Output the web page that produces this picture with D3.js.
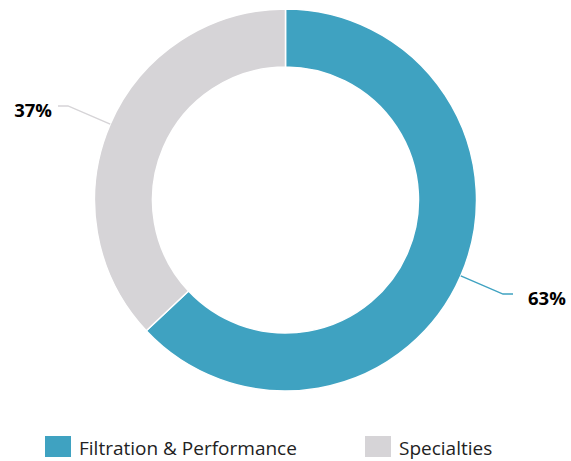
<!DOCTYPE html>
<html>
<head>
<meta charset="utf-8">
<script src="https://cdn.jsdelivr.net/npm/d3@7"></script>
<style>
  body { margin: 0; background: #fff; }
  svg { display: block; font-family: "Open Sans", sans-serif; }
</style>
</head>
<body>
<script>
let categories = ["Filtration & Performance", "Specialties"]
let values = [63, 37]
let colors = ["#3fa2c1", "#d6d4d7"]
let lineColors = ["#3fa2c1", "#d6d4d7"]

let w = 571, h = 461
let cx = 285.5, cy = 200
let outer = 191, inner = 133

let svg = d3.select("body").append("svg")
    .attr("width", w)
    .attr("height", h)

let pie = d3.pie().sort(null).value(d => d)
let arcs = pie(values)
let arc = d3.arc().innerRadius(inner).outerRadius(outer)
let edge = d3.arc().innerRadius(outer).outerRadius(outer)
let elbow = d3.arc().innerRadius(237).outerRadius(237)

let g = svg.append("g").attr("transform", `translate(${cx},${cy})`)

//slices
g.selectAll("path.slice")
    .data(arcs)
    .enter()
    .append("path")
    .attr("class", "slice")
    .attr("d", arc)
    .attr("fill", (d, i) => colors[i])
    .attr("stroke", "#fff")
    .attr("stroke-width", 1.5)

//leader lines + labels
arcs.forEach((d, i) => {
    let a = edge.centroid(d)
    let b = elbow.centroid(d)
    let right = b[0] > 0
    let c = [b[0] + (right ? 10 : -10), b[1]]
    g.append("polyline")
        .attr("points", [a, b, c].map(p => p.join(",")).join(" "))
        .attr("fill", "none")
        .attr("stroke", lineColors[i])
        .attr("stroke-width", 1.5)
    g.append("text")
        .attr("x", c[0] + (right ? 15 : -6))
        .attr("y", c[1] + 11)
        .attr("text-anchor", right ? "start" : "end")
        .attr("font-size", 18.5)
        .attr("font-weight", "bold")
        .attr("fill", "#000")
        .text(d.data + "%")
})

//legend
let legendX = [45, 365]
let legend = svg.selectAll("g.legend")
    .data(categories)
    .enter()
    .append("g")
    .attr("class", "legend")
    .attr("transform", (d, i) => `translate(${legendX[i]},436)`)
legend.append("rect")
    .attr("width", 26)
    .attr("height", 21)
    .attr("fill", (d, i) => colors[i])
legend.append("text")
    .attr("x", 34)
    .attr("y", 19)
    .attr("font-size", 19)
    .attr("fill", "#222")
    .text(d => d)
</script>
</body>
</html>
